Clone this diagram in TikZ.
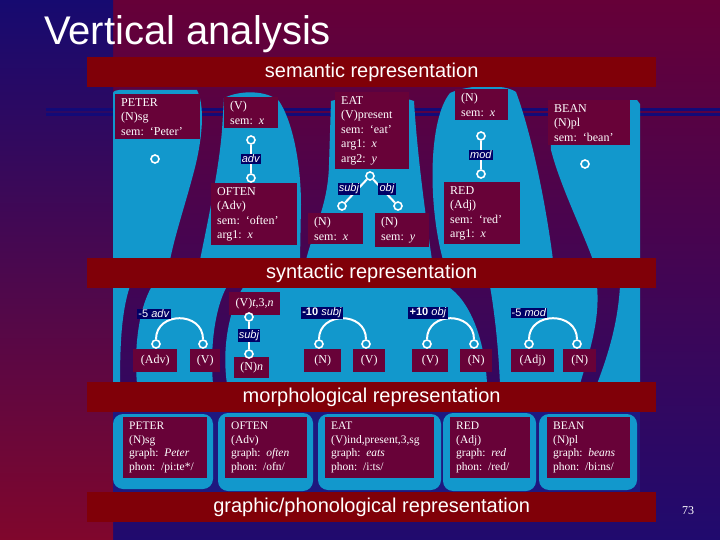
\documentclass[tikz,border=0pt]{standalone}
\usepackage{fontspec}
\setmainfont{Liberation Serif}
\newfontfamily\arialfont{Liberation Sans}

\definecolor{stripblue}{RGB}{22,10,112}
\definecolor{stripred}{RGB}{128,6,44}
\definecolor{bgtop}{RGB}{102,0,56}
\definecolor{bgbot}{RGB}{32,10,110}
\definecolor{bannerred}{RGB}{128,0,8}
\definecolor{boxred}{RGB}{104,2,56}
\definecolor{panelcyan}{RGB}{18,152,204}
\definecolor{morphnavy}{RGB}{30,24,128}
\definecolor{labelnavy}{RGB}{0,0,102}
\definecolor{stripenavy}{RGB}{18,10,120}

\begin{document}
\begin{tikzpicture}[x=1pt, y=-1pt,
    banner/.style={fill=bannerred, text=white, font=\arialfont\fontsize{20}{20}\selectfont,
        minimum width=569pt, minimum height=30pt, inner sep=0pt, anchor=north west},
    sembox/.style={fill=boxred, text=white, font=\fontsize{12}{14.5}\selectfont, align=left,
        inner xsep=6pt, inner ysep=4pt, anchor=north west, text width=#1},
    morphbox/.style={sembox=#1, font=\fontsize{11.5}{13.5}\selectfont, inner ysep=5pt},
    synbox/.style={fill=boxred, text=white, font=\fontsize{12}{12}\selectfont,
        minimum width=#1, minimum height=23pt, inner sep=0pt, anchor=north west},
    linkend/.style={circle, draw=white, fill=panelcyan, line width=1.6pt, minimum size=8pt, inner sep=0pt},
    link/.style={draw=white, line width=2pt},
    lab/.style={fill=labelnavy, text=white, font=\arialfont\fontsize{11}{11}\selectfont, inner sep=1.2pt},
    stripe/.style={draw=stripenavy, line width=3pt}]
    \useasboundingbox (0,0) rectangle (720,540);

    % Background
    \shade[top color=bgtop, bottom color=bgbot] (113,0) rectangle (720,540);
    \shade[top color=stripblue, bottom color=stripred] (0,0) rectangle (113,540);
    \draw[stripe] (46,109.5) -- (720,109.5);
    \draw[stripe] (46,114.5) -- (720,114.5);

    % Semantic panel
    \fill[panelcyan] (113,260) -- (113,96) .. controls (113,91) .. (119,90) -- (197,90)
        .. controls (207,110) and (200,150) .. (193,175) .. controls (185,205) and (175,235) .. (170,260) -- cycle;
    \fill[panelcyan] (200,260) .. controls (207,225) and (219,170) .. (222,130) -- (224,98)
        .. controls (240,90) and (266,90) .. (279,101) .. controls (293,122) and (301,165) .. (301,205) -- (300,260) -- cycle;
    \fill[panelcyan] (306,260) .. controls (314,228) and (328,205) .. (329,165) -- (331,101)
        .. controls (352,95) and (398,95) .. (414,101) .. controls (417,150) and (424,205) .. (432,260) -- cycle;
    \fill[panelcyan] (443,260) .. controls (428,205) and (428,120) .. (450,93)
        .. controls (470,84) and (505,84) .. (516,92) .. controls (532,135) and (546,205) .. (553,260) -- cycle;
    \fill[panelcyan] (593,260) .. controls (580,225) and (560,185) .. (551,150) -- (549,102) -- (637,100) -- (640,104) -- (640,260) -- cycle;

    % Syntactic panel
    \fill[panelcyan, even odd rule] (113,286) rectangle (640,384)
        (130,286) .. controls (122,310) and (120,340) .. (120,384) -- (137,384) .. controls (134,350) and (138,310) .. (152,286) -- cycle
        (227,286) .. controls (214,310) and (210,350) .. (213,384) -- (227,384) .. controls (222,350) and (228,310) .. (244,286) -- cycle
        (447,286) .. controls (470,300) and (485,340) .. (487,384) -- (500,384) .. controls (498,340) and (494,310) .. (490,286) -- cycle
        (597,286) .. controls (600,320) and (590,350) .. (580,384) -- (597,384) .. controls (610,350) and (618,320) .. (620,286) -- cycle;

    % Morphological panel
    \fill[morphnavy] (113,410) rectangle (640,494);
    \foreach \a/\b/\c/\d in {113/414/213/489, 218/413/313/491, 318/414/441/490, 443/413/536/491, 539/414/637/490}
        \fill[panelcyan, rounded corners=10pt] (\a,\b) rectangle (\c,\d);

    % Title and banners
    \node[anchor=base west, inner sep=0pt, text=white, font=\arialfont\fontsize{40}{40}\selectfont] (title) at (44,45) {Vertical analysis};
    \node[banner] (semBan) at (87,57) {semantic representation};
    \node[banner] (synBan) at (87,258) {syntactic representation};
    \node[banner] (morBan) at (87,382) {morphological representation};
    \node[banner] (phoBan) at (87,492) {graphic/phonological representation};
    \node[text=white, font=\fontsize{12}{12}\selectfont] (pageNo) at (688,511) {73};

    % Semantic boxes
    \node[sembox=73pt] (peterSem) at (115,94) {PETER\\(N)sg\\sem: ‘Peter’};
    \node[sembox=42pt] (vSem) at (224,97) {(V)\\sem: \textit{x}};
    \node[sembox=62pt] (eatSem) at (335,92) {EAT\\(V)present\\sem: ‘eat’\\arg1: \textit{x}\\arg2: \textit{y}};
    \node[sembox=41pt] (nxSem) at (455,89) {(N)\\sem: \textit{x}};
    \node[sembox=70pt] (beanSem) at (548,100) {BEAN\\(N)pl\\sem: ‘bean’};
    \node[sembox=74pt] (oftenSem) at (211,183) {OFTEN\\(Adv)\\sem: ‘often’\\arg1: \textit{x}};
    \node[sembox=43pt] (subjSem) at (308,213) {(N)\\sem: \textit{x}};
    \node[sembox=42pt] (objSem) at (375,213) {(N)\\sem: \textit{y}};
    \node[sembox=64pt] (redSem) at (444,182) {RED\\(Adj)\\sem: ‘red’\\arg1: \textit{x}};

    % Semantic links
    \node[linkend] (peterDot) at (155,159) {};
    \node[linkend] (beanDot) at (585,164) {};
    \node[linkend] (advTop) at (251,140) {};
    \node[linkend] (advBot) at (251,178) {};
    \draw[link] (advTop) -- (advBot) node[lab, midway] (advLab) {\textit{adv}};
    \node[linkend] (modTop) at (481,136) {};
    \node[linkend] (modBot) at (481,174) {};
    \draw[link] (modTop) -- (modBot) node[lab, midway] (modLab) {\textit{mod}};
    \node[linkend] (eatTop) at (370,176) {};
    \node[linkend] (eatSubj) at (342,206) {};
    \node[linkend] (eatObj) at (398,206) {};
    \draw[link] (eatTop) -- (eatSubj);
    \draw[link] (eatTop) -- (eatObj);
    \node[lab] (subjLab) at (349,189) {\textit{subj}};
    \node[lab] (objLab) at (387,189) {\textit{obj}};

    % Syntactic boxes
    \node[synbox=44pt] (advSyn) at (133,349) {(Adv)};
    \node[synbox=30pt] (vaSyn) at (190,349) {(V)};
    \node[synbox=51pt] (vtSyn) at (229,292) {(V)\textit{t},3,\textit{n}};
    \node[synbox=35pt, minimum height=21pt] (nnSyn) at (234,357) {(N)\textit{n}};
    \node[synbox=37pt] (naSyn) at (304,349) {(N)};
    \node[synbox=32pt] (vbSyn) at (353,349) {(V)};
    \node[synbox=36pt] (vcSyn) at (412,349) {(V)};
    \node[synbox=32pt] (nbSyn) at (460,349) {(N)};
    \node[synbox=43pt] (adjSyn) at (511,349) {(Adj)};
    \node[synbox=33pt] (ncSyn) at (563,349) {(N)};

    % Syntactic links
    \foreach \nm/\xa/\xb in {adv/156/203, subj/319/366, obj/427/474, mod/529/577} {
        \node[linkend] (syn\nm-l) at (\xa,344) {};
        \node[linkend] (syn\nm-r) at (\xb,344) {};
        \draw[link] (syn\nm-l.north) .. controls +(0,-28) and +(0,-28) .. (syn\nm-r.north);
    }
    \node[lab] (advWeight) at (154,314) {-5 \textit{adv}};
    \node[lab] (subjWeight) at (322,313) {\textbf{-10} \textit{subj}};
    \node[lab] (objWeight) at (428,313) {\textbf{+10} \textit{obj}};
    \node[lab] (modWeight) at (529,313) {-5 \textit{mod}};
    \node[linkend] (vtTop) at (249,317) {};
    \node[linkend] (vtBot) at (249,354) {};
    \draw[link] (vtTop) -- (vtBot) node[lab, midway] (vtLab) {\textit{subj}};

    % Morphological boxes
    \node[morphbox=72pt] (peterMor) at (123,417) {PETER\\(N)sg\\graph: \textit{Peter}\\phon: /pi:te*/};
    \node[morphbox=70pt] (oftenMor) at (225,417) {OFTEN\\(Adv)\\graph: \textit{often}\\phon: /ofn/};
    \node[morphbox=97pt] (eatMor) at (325,417) {EAT\\(V)ind,present,3,sg\\graph: \textit{eats}\\phon: /i:ts/};
    \node[morphbox=68pt] (redMor) at (450,417) {RED\\(Adj)\\graph: \textit{red}\\phon: /red/};
    \node[morphbox=71pt] (beanMor) at (547,417) {BEAN\\(N)pl\\graph: \textit{beans}\\phon: /bi:ns/};
\end{tikzpicture}
\end{document}
